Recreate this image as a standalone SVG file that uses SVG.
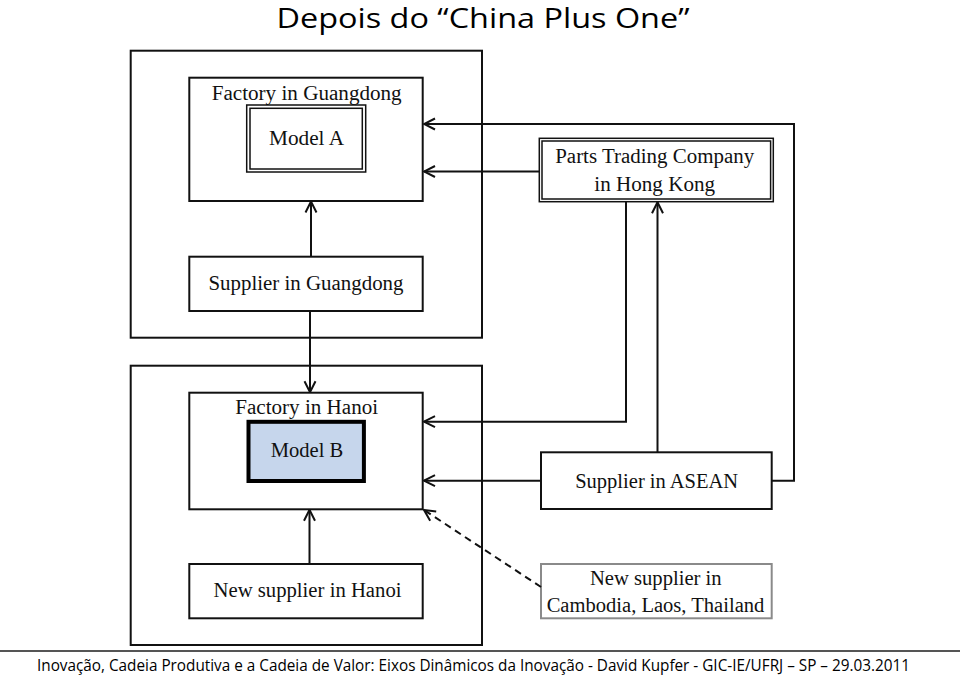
<svg xmlns="http://www.w3.org/2000/svg" width="960" height="679" viewBox="0 0 960 679">
<style>
.box{fill:#fff;stroke:#111;stroke-width:2}
.grp{fill:none;stroke:#111;stroke-width:2}
.t{font-family:"Liberation Serif","Times New Roman",serif;font-size:20.5px;fill:#111;text-anchor:middle}
.c{fill:none;stroke:#111;stroke-width:2}
.d{fill:none;stroke:#111;stroke-width:2;stroke-dasharray:7,5}
.h{font-family:"Open Sans","Liberation Sans",sans-serif;fill:#000}
</style>
<defs>
<marker id="arr" viewBox="0 0 14 14" refX="13" refY="7" markerWidth="14" markerHeight="14" markerUnits="userSpaceOnUse" orient="auto">
<path d="M2,1.5 L13,7 L2,12.5" fill="none" stroke="#111" stroke-width="2"/>
</marker>
</defs>
<rect width="960" height="679" fill="#fff"/>
<text class="h" x="483" y="28" font-size="27" text-anchor="middle" textLength="413" lengthAdjust="spacingAndGlyphs">Depois do “China Plus One”</text>

<g id="region-guangdong"><rect class="grp" x="130.7" y="50.7" width="351.3" height="287"/></g>
<g id="region-hanoi"><rect class="grp" x="130.7" y="365.7" width="351.3" height="279.3"/></g>

<g id="factory-guangdong">
<rect class="box" x="189.3" y="77.7" width="233.4" height="123.3"/>
<text class="t" x="306.7" y="100" textLength="190" lengthAdjust="spacingAndGlyphs">Factory in Guangdong</text>
</g>
<g id="model-a">
<rect x="246.7" y="105" width="119" height="67" fill="#fff" stroke="#111" stroke-width="1.5"/>
<rect x="250" y="108.3" width="112.3" height="60.7" fill="none" stroke="#111" stroke-width="1.5"/>
<text class="t" x="306.5" y="145" textLength="75" lengthAdjust="spacingAndGlyphs">Model A</text>
</g>
<g id="supplier-guangdong">
<rect class="box" x="189.3" y="256.7" width="233.4" height="54.3"/>
<text class="t" x="306" y="290" textLength="195" lengthAdjust="spacingAndGlyphs">Supplier in Guangdong</text>
</g>
<g id="parts-trading">
<rect x="539.3" y="138.3" width="234" height="63.4" fill="#fff" stroke="#111" stroke-width="1.5"/>
<rect x="542" y="141" width="228.6" height="58" fill="none" stroke="#111" stroke-width="1.5"/>
<text class="t" x="654.7" y="163.3" textLength="199" lengthAdjust="spacingAndGlyphs">Parts Trading Company</text>
<text class="t" x="654.7" y="190.7" textLength="120.7" lengthAdjust="spacingAndGlyphs">in Hong Kong</text>
</g>
<g id="factory-hanoi">
<rect class="box" x="189.3" y="392.7" width="233.4" height="116.6"/>
<text class="t" x="306.7" y="413.5" textLength="143" lengthAdjust="spacingAndGlyphs">Factory in Hanoi</text>
</g>
<g id="model-b">
<rect x="248.5" y="421.8" width="115.4" height="59.2" fill="#c6d6ec" stroke="#000" stroke-width="4"/>
<text class="t" x="307" y="456.7" textLength="72.6" lengthAdjust="spacingAndGlyphs">Model B</text>
</g>
<g id="supplier-asean">
<rect class="box" x="541" y="452.3" width="230.7" height="56.7"/>
<text class="t" x="656.7" y="488.3" textLength="163" lengthAdjust="spacingAndGlyphs">Supplier in ASEAN</text>
</g>
<g id="new-supplier-hanoi">
<rect class="box" x="189.3" y="564" width="233.4" height="54.3"/>
<text class="t" x="307.5" y="597" textLength="188" lengthAdjust="spacingAndGlyphs">New supplier in Hanoi</text>
</g>
<g id="new-supplier-cambodia">
<rect x="541" y="564" width="230.7" height="54.3" fill="#fff" stroke="#8a8a8a" stroke-width="2"/>
<text class="t" x="655.8" y="585" textLength="131.7" lengthAdjust="spacingAndGlyphs">New supplier in</text>
<text class="t" x="655.5" y="611.7" textLength="217.7" lengthAdjust="spacingAndGlyphs">Cambodia, Laos, Thailand</text>
</g>

<g id="connectors">
<path class="c" d="M311,256.7 V201.5" marker-end="url(#arr)"/>
<path class="c" d="M310,311 V392.2" marker-end="url(#arr)"/>
<path class="c" d="M539.3,171.5 H424" marker-end="url(#arr)"/>
<path class="c" d="M771.7,480.7 H794 V124 H424" marker-end="url(#arr)"/>
<path class="c" d="M657.5,452.3 V202.2" marker-end="url(#arr)"/>
<path class="c" d="M626,201.7 V421.7 H424" marker-end="url(#arr)"/>
<path class="c" d="M541,480.7 H424" marker-end="url(#arr)"/>
<path class="c" d="M309.5,564 V509.8" marker-end="url(#arr)"/>
<path class="d" d="M541,587 L424,510" marker-end="url(#arr)"/>
</g>

<line x1="0" y1="651" x2="960" y2="651" stroke="#555" stroke-width="2"/>
<text class="h" x="473.5" y="671" font-size="15.5" text-anchor="middle" textLength="873" lengthAdjust="spacingAndGlyphs">Inovação, Cadeia Produtiva e a Cadeia de Valor: Eixos Dinâmicos da Inovação - David Kupfer - GIC-IE/UFRJ – SP – 29.03.2011</text>
</svg>
